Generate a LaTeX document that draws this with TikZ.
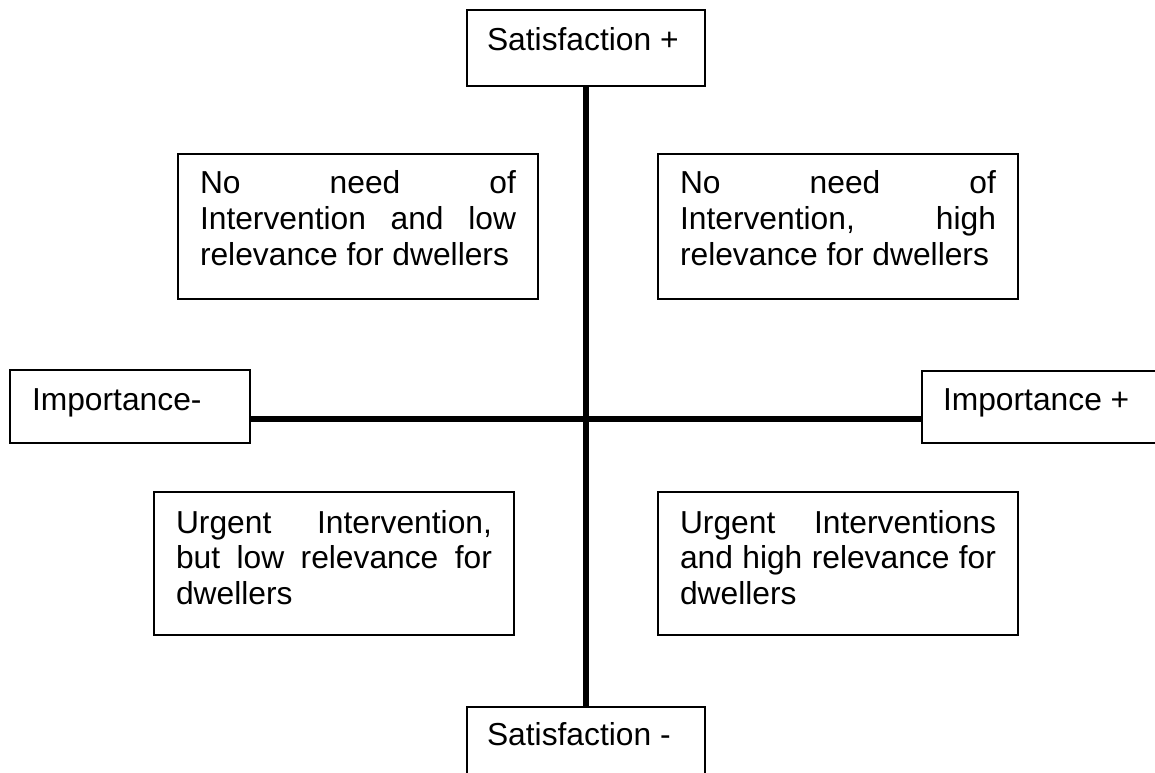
\documentclass[tikz,border=0pt]{standalone}
\usepackage{fontspec}
\setmainfont{Liberation Sans}
\usetikzlibrary{calc}
\hbadness=10000

\begin{document}
\begin{tikzpicture}[
                    every node/.style={font=\fontsize{22.6}{25.6}\selectfont},
                    qbox/.style={draw, line width=0.85pt, anchor=base west,
                                 inner ysep=0pt, outer sep=0pt, align=justify},
                    axis/.style={line width=3.6pt}
                   ]
                    \useasboundingbox (0,0) rectangle (28.875,-19.325);
                    \clip (0,0) rectangle (28.875,-19.325);

                    \coordinate (C) at (14.65,-10.475);

                    \node[qbox, inner xsep=0.5cm, text width=4.95cm,
                          text height=1.025cm, text depth=0.875cm]
                          (SatP) at (11.675,-1.275) {Satisfaction +};
                    \node[qbox, inner xsep=0.5cm, text width=4.95cm,
                          text height=0.95cm, text depth=1.5cm]
                          (SatM) at (11.675,-18.625) {Satisfaction -};

                    \node[qbox, inner xsep=0.55cm, text width=4.9cm,
                          text height=1.025cm, text depth=0.8cm]
                          (ImpM) at (0.25,-10.275) {Importance-};
                    \node[qbox, inner xsep=0.525cm, text width=5.5cm,
                          text height=1.0cm, text depth=0.8cm]
                          (ImpP) at (23.05,-10.275) {Importance +};

                    \node[qbox, inner xsep=0.55cm, text width=7.9cm,
                          text height=1.0cm, text depth=2.625cm]
                          (QTL) at (4.45,-4.85)
                          {No need of\linebreak Intervention and low\linebreak relevance for dwellers};
                    \node[qbox, inner xsep=0.55cm, text width=7.9cm,
                          text height=1.0cm, text depth=2.625cm]
                          (QTR) at (16.45,-4.85)
                          {No need of\linebreak Intervention, high\linebreak relevance for dwellers};
                    \node[qbox, inner xsep=0.55cm, text width=7.9cm,
                          text height=1.025cm, text depth=2.55cm]
                          (QBL) at (3.85,-13.325)
                          {Urgent Intervention,\linebreak but low relevance for\linebreak dwellers};
                    \node[qbox, inner xsep=0.55cm, text width=7.9cm,
                          text height=1.025cm, text depth=2.55cm]
                          (QBR) at (16.45,-13.325)
                          {Urgent Interventions\linebreak and high relevance for\linebreak dwellers};

                    \draw[axis] (SatP.south) -- (SatM.north);
                    \draw[axis] (ImpM.east |- C) -- (ImpP.west |- C);
                \end{tikzpicture}
\end{document}
